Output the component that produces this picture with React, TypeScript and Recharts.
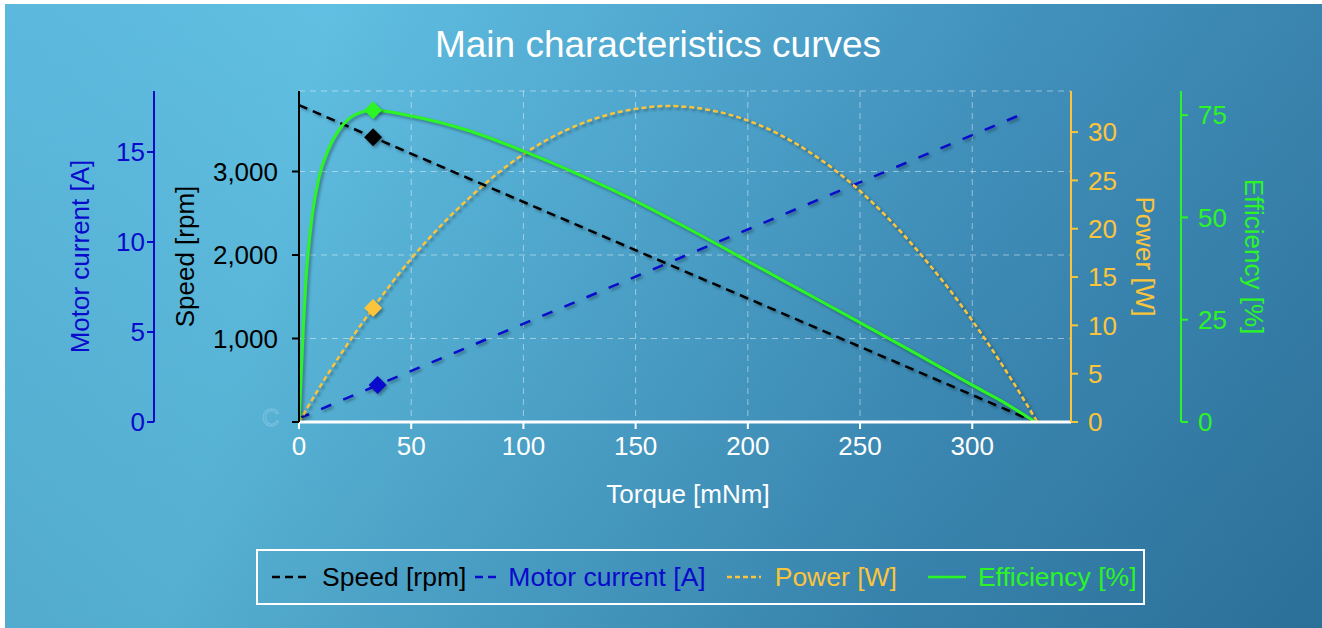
import React from "react";
import { ComposedChart, Line, XAxis, YAxis, CartesianGrid } from "recharts";

// axis ticks
const torqueTicks = [0, 50, 100, 150, 200, 250, 300];
const speedTicks = [0, 1000, 2000, 3000];
const currentTicks = [0, 5, 10, 15];
const powerTicks = [0, 5, 10, 15, 20, 25, 30];
const efficiencyTicks = [0, 25, 50, 75];

// series (torque in mNm)
const speedTorque = [0, 33, 328];
const speedRpm = [3795, 3410, 0];

const currentTorque = [0, 35, 324];
const currentAmp = [0.2, 2.05, 17.2];

const powerTorque = [0, 10, 20, 33, 50, 75, 100, 125, 150, 165, 180, 200, 225, 250, 275, 300, 315, 329];
const powerWatt = [0, 3.9, 7.5, 11.8, 16.9, 23.0, 27.7, 30.8, 32.4, 32.7, 32.4, 31.2, 28.3, 23.9, 17.9, 10.5, 5.3, 0];

const effTorque = [0, 1, 2, 3, 4, 6, 9, 13, 18, 24, 33, 50, 75, 100, 125, 150, 175, 200, 225, 250, 275, 300, 315, 328];
const effPct = [0, 12, 24, 34, 41, 51, 60, 66.5, 71.5, 74.8, 76.2, 74.8, 71.3, 66.2, 60.4, 54, 46.8, 39.3, 31.8, 24.3, 16.7, 9, 4.5, 0];

// operating point markers
const speedMark = 33;
const currentMark = 35;
const powerMark = 33;
const effMark = 33;

// axis ids: the ids sort so that the first of each side sits next to the plot
const AX_SPEED = "l1speed";
const AX_CURRENT = "l2current";
const AX_POWER = "r1power";
const AX_EFF = "r2eff";

const C_SPEED = "#000000";
const C_CURRENT = "#0a0acc";
const C_POWER = "#fbc43b";
const C_EFF = "#2cf526";
const C_WHITE = "#ffffff";
const FS = 26;

const rows = (xs: number[], ys: number[], key: string) =>
  xs.map((t, i) => ({ torque: t, [key]: ys[i] }));

const speedData = rows(speedTorque, speedRpm, "speed");
const currentData = rows(currentTorque, currentAmp, "current");
const powerData = rows(powerTorque, powerWatt, "power");
const effData = rows(effTorque, effPct, "eff");

const diamond = (markAt: number, color: string) => (props: any) => {
  const { cx, cy, payload, index } = props;
  if (!payload || payload.torque !== markAt || cx == null) return <g key={`d${index}`} />;
  const r = 9;
  return (
    <path
      key={`d${index}`}
      className="marker"
      d={`M${cx},${cy - r}L${cx + r},${cy}L${cx},${cy + r}L${cx - r},${cy}Z`}
      fill={color}
    />
  );
};

const yLabel = (text: string, dx: number, color: string, angle: number) => ({
  content: (p: any) => {
    const vb = p.viewBox || {};
    const cx = vb.x + dx;
    const cy = vb.y + vb.height / 2;
    return (
      <text
        x={cx}
        y={cy}
        transform={`rotate(${angle} ${cx} ${cy})`}
        textAnchor="middle"
        dominantBaseline="central"
        fill={color}
        fontSize={FS}
      >
        {text}
      </text>
    );
  },
});

const legendItems = [
  { label: "Speed [rpm]", color: C_SPEED, dash: "8 5", w: 35, gap: 15, after: 9 },
  { label: "Motor current [A]", color: C_CURRENT, dash: "8 5", w: 22, gap: 11, after: 21 },
  { label: "Power [W]", color: C_POWER, dash: "5 3", w: 34, gap: 14, after: 31 },
  { label: "Efficiency [%]", color: C_EFF, dash: "", w: 38, gap: 12, after: 0 },
];

export default function App() {
  return (
    <div
      style={{
        position: "absolute",
        left: 0,
        top: 0,
        width: 1322,
        height: 628,
        background: "#ffffff",
        fontFamily: "'Liberation Sans', Arial, sans-serif",
        overflow: "hidden",
      }}
    >
      <style>{`
        .recharts-line-curve, .marker { filter: drop-shadow(2px 2px 1.5px rgba(0,0,0,0.35)); }
      `}</style>
      <div
        style={{
          position: "absolute",
          left: 5,
          top: 4,
          width: 1317,
          height: 624,
          background:
            "linear-gradient(180deg, rgba(255,255,255,0.03), rgba(0,0,0,0.08)), linear-gradient(105deg, #57b6dc 0%, #5bbde1 22%, #4ca6cf 45%, #3b8dba 70%, #2f79a5 100%)",
        }}
      />
      <div
        style={{
          position: "absolute",
          left: 0,
          top: 22,
          width: 1316,
          textAlign: "center",
          color: C_WHITE,
          fontSize: 37,
          lineHeight: "46px",
        }}
      >
        Main characteristics curves
      </div>
      <div
        style={{
          position: "absolute",
          left: 262,
          top: 404,
          fontSize: 24,
          color: "transparent",
          WebkitTextStroke: "1px rgba(220,240,255,0.3)",
        }}
      >
        C
      </div>
      <div style={{ position: "absolute", left: 0, top: 0 }}>
        <ComposedChart
          width={1322}
          height={628}
          margin={{ top: 91, right: 41, bottom: 116, left: 50 }}
        >
          <CartesianGrid
            yAxisId={AX_SPEED}
            stroke="rgba(255,255,255,0.45)"
            strokeDasharray="6 5"
            strokeWidth={1}
          />
          <XAxis
            dataKey="torque"
            type="number"
            domain={[0, 344]}
            ticks={torqueTicks}
            allowDataOverflow
            height={90}
            tickSize={7}
            tickMargin={8}
            tick={{ fill: C_WHITE, fontSize: FS }}
            tickLine={{ stroke: C_WHITE, strokeWidth: 2 }}
            axisLine={{ stroke: C_WHITE, strokeWidth: 3 }}
            label={{
              content: (p: any) => {
                const vb = p.viewBox || {};
                return (
                  <text
                    x={vb.x + vb.width / 2 + 3}
                    y={vb.y + 72}
                    textAnchor="middle"
                    dominantBaseline="central"
                    fill={C_WHITE}
                    fontSize={FS}
                  >
                    Torque [mNm]
                  </text>
                );
              },
            }}
          />
          <XAxis
            xAxisId="top"
            orientation="top"
            type="number"
            domain={[0, 344]}
            height={0}
            tick={false}
            tickLine={false}
            axisLine={{ stroke: C_WHITE, strokeWidth: 2 }}
          />
          <YAxis
            yAxisId={AX_SPEED}
            orientation="left"
            type="number"
            domain={[0, 3964]}
            ticks={speedTicks}
            allowDataOverflow
            width={145}
            tickSize={7}
            tickMargin={14}
            tickFormatter={(v: number) => (v === 0 ? "" : v.toLocaleString("en-US"))}
            tick={{ fill: C_SPEED, fontSize: FS }}
            tickLine={{ stroke: C_SPEED, strokeWidth: 2 }}
            axisLine={{ stroke: C_SPEED, strokeWidth: 2 }}
            label={yLabel("Speed [rpm]", 31, C_SPEED, -90)}
          />
          <YAxis
            yAxisId={AX_CURRENT}
            orientation="left"
            type="number"
            domain={[0, 18.39]}
            ticks={currentTicks}
            allowDataOverflow
            width={104}
            tickSize={7}
            tickMargin={2}
            tick={{ fill: C_CURRENT, fontSize: FS }}
            tickLine={{ stroke: C_CURRENT, strokeWidth: 2 }}
            axisLine={{ stroke: C_CURRENT, strokeWidth: 2 }}
            label={yLabel("Motor current [A]", 30, C_CURRENT, -90)}
          />
          <YAxis
            yAxisId={AX_POWER}
            orientation="right"
            type="number"
            domain={[0, 34.25]}
            ticks={powerTicks}
            allowDataOverflow
            width={110}
            tickSize={7}
            tickMargin={10}
            tick={{ fill: C_POWER, fontSize: FS }}
            tickLine={{ stroke: C_POWER, strokeWidth: 2 }}
            axisLine={{ stroke: C_POWER, strokeWidth: 2 }}
            label={yLabel("Power [W]", 74, C_POWER, 90)}
          />
          <YAxis
            yAxisId={AX_EFF}
            orientation="right"
            type="number"
            domain={[0, 80.9]}
            ticks={efficiencyTicks}
            allowDataOverflow
            width={100}
            tickSize={7}
            tickMargin={10}
            tick={{ fill: C_EFF, fontSize: FS }}
            tickLine={{ stroke: C_EFF, strokeWidth: 2 }}
            axisLine={{ stroke: C_EFF, strokeWidth: 2 }}
            label={yLabel("Efficiency [%]", 73, C_EFF, 90)}
          />
          <Line
            yAxisId={AX_CURRENT}
            data={currentData}
            dataKey="current"
            type="linear"
            stroke={C_CURRENT}
            strokeWidth={2.5}
            strokeDasharray="11 13"
            dot={diamond(currentMark, C_CURRENT)}
            activeDot={false}
            isAnimationActive={false}
          />
          <Line
            yAxisId={AX_POWER}
            data={powerData}
            dataKey="power"
            type="monotone"
            stroke={C_POWER}
            strokeWidth={2.5}
            strokeDasharray="5 3"
            dot={diamond(powerMark, C_POWER)}
            activeDot={false}
            isAnimationActive={false}
          />
          <Line
            yAxisId={AX_SPEED}
            data={speedData}
            dataKey="speed"
            type="linear"
            stroke={C_SPEED}
            strokeWidth={2.5}
            strokeDasharray="9 6"
            dot={diamond(speedMark, C_SPEED)}
            activeDot={false}
            isAnimationActive={false}
          />
          <Line
            yAxisId={AX_EFF}
            data={effData}
            dataKey="eff"
            type="monotone"
            stroke={C_EFF}
            strokeWidth={3}
            dot={diamond(effMark, C_EFF)}
            activeDot={false}
            isAnimationActive={false}
          />
        </ComposedChart>
      </div>
      <div
        style={{
          position: "absolute",
          left: 256,
          top: 549,
          width: 889,
          height: 56,
          boxSizing: "border-box",
          border: "2px solid #ffffff",
          display: "flex",
          alignItems: "center",
          paddingLeft: 14,
          fontSize: 26.5,
        }}
      >
        {legendItems.map((it) => (
          <div
            key={it.label}
            style={{ display: "flex", alignItems: "center", marginRight: it.after }}
          >
            <svg width={it.w} height={10} style={{ marginRight: it.gap }}>
              <line
                x1={0}
                y1={5}
                x2={it.w}
                y2={5}
                stroke={it.color}
                strokeWidth={2.5}
                strokeDasharray={it.dash || undefined}
              />
            </svg>
            <span style={{ color: it.color, whiteSpace: "nowrap" }}>{it.label}</span>
          </div>
        ))}
      </div>
    </div>
  );
}
